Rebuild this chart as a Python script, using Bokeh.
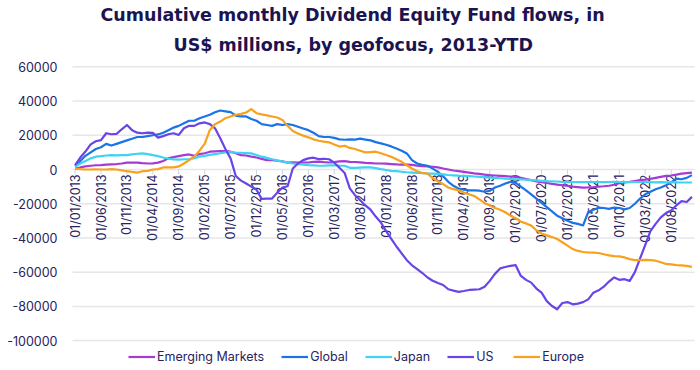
import math
from bokeh.plotting import figure
from bokeh.models import (Range1d, Legend, LegendItem, Title, ColumnDataSource)
from bokeh.core.properties import value
from bokeh.embed import file_html
from bokeh.resources import INLINE

# ---------------- data (US$ millions, cumulative, monthly from Jan 2013) ----------------
months = [f"01/{(i % 12) + 1:02d}/{2013 + i // 12}" for i in range(120)]

emerging_markets = [0.5, 1.2, 1.8, 2.2, 2.5, 2.6, 2.8, 3.0, 3.2, 3.5,
                    4.0, 4.1, 4.0, 3.7, 3.5, 3.6, 4.0, 5.0, 6.5, 7.2,
                    7.8, 8.4, 8.8, 8.0, 9.0, 9.5, 10.4, 10.6, 10.8, 10.7,
                    10.4, 9.5, 8.4, 8.2, 7.5, 7.0, 6.2, 5.5, 5.4, 5.1,
                    4.8, 4.0, 4.2, 4.0, 4.1, 4.1, 4.5, 4.6, 4.3, 4.1,
                    4.3, 4.7, 4.9, 4.5, 4.4, 4.2, 3.9, 3.7, 3.5, 3.5,
                    3.4, 3.2, 3.0, 2.9, 2.9, 2.7, 2.3, 2.0, 1.8, 1.6,
                    1.2, 0.6, 0.0, -0.6, -1.0, -1.4, -1.8, -2.3, -2.6, -3.0,
                    -3.3, -3.5, -3.7, -3.9, -4.1, -4.3, -4.8, -5.6, -6.2, -6.9,
                    -7.4, -7.9, -8.4, -8.8, -9.2, -9.6, -10.0, -10.3, -10.6, -10.5,
                    -10.3, -10.0, -9.8, -9.5, -8.9, -8.0, -7.6, -7.2, -6.7, -6.2,
                    -5.9, -5.5, -4.9, -4.3, -3.7, -3.5, -3.0, -2.4, -2.1, -1.8]

global_ = [2, 5, 8, 10, 12, 13, 15, 14, 15, 16,
           17, 18, 19, 19, 19.5, 20, 20.5, 21.5, 23, 24.5,
           25.5, 27, 28.5, 28.5, 30, 31, 32, 33.5, 34.5, 34,
           33.5, 31.5, 31, 31, 29.5, 28.5, 26.5, 26, 25.5, 26.5,
           26, 26.5, 26, 25, 24, 23, 21.5, 19.5, 19, 19,
           18.5, 17.6, 17.4, 17.6, 17.5, 18, 17.5, 17, 16, 15.3,
           14.5, 13.5, 12.3, 11, 9.4, 5.5, 3.5, 2.8, 2.2, 0.5,
           -1.4, -4, -7.2, -9.5, -11.2, -11.8, -12.2, -12.2, -12.4, -13,
           -12.5, -10.5, -9.5, -8.2, -7.2, -7.8, -10, -12.2, -14.5, -17,
           -19.5, -22, -24.5, -27, -28.5, -30, -31.2, -31.8, -32.7, -24.9,
           -23.5, -22.3, -22.5, -23, -22.3, -22.5, -23.3, -22.5, -20, -17,
           -14.5, -13, -11.5, -10.5, -9.2, -7.5, -5.3, -5.7, -4.9, -3.3]

japan = [1.6, 3.5, 5.0, 6.5, 7.5, 7.8, 8.2, 8.4, 8.3, 8.4,
         8.4, 8.8, 9.2, 9.4, 9.0, 8.4, 7.8, 7.0, 6.3, 5.9,
         5.8, 6.0, 6.1, 6.6, 7.5, 8.0, 8.5, 9.0, 9.5, 10.0,
         10.1, 9.9, 9.8, 9.6, 9.4, 8.5, 7.5, 6.8, 6.0, 5.3,
         4.6, 4.0, 3.5, 3.1, 2.9, 2.6, 2.4, 2.2, 2.2, 2.4,
         2.5, 2.3, 2.2, 1.0, 1.0, 1.1, 1.2, 1.2, 0.8, 0.2,
         -0.3, -0.8, -1.0, -1.3, -1.6, -1.8, -2.0, -2.1, -2.3, -2.4,
         -2.6, -2.9, -3.2, -3.4, -3.6, -3.7, -3.9, -4.1, -4.3, -4.5,
         -4.7, -4.9, -5.1, -5.3, -5.5, -5.7, -5.8, -6.0, -6.2, -6.4,
         -6.6, -6.8, -6.9, -7.0, -7.2, -7.3, -7.3, -7.4, -7.3, -7.4,
         -7.3, -7.3, -7.4, -7.3, -7.2, -7.3, -7.3, -7.4, -7.3, -7.3,
         -7.4, -7.4, -7.5, -7.4, -7.5, -7.5, -7.5, -7.6, -7.6, -7.6]

us = [2.5, 7, 10.5, 14.7, 16.5, 17.2, 21.2, 20.6, 20.8, 23.5,
      26, 23, 21.5, 21.2, 21.6, 21.4, 18.6, 19.5, 20.6, 21.2,
      20.2, 24.1, 25.5, 25.5, 27, 27.5, 26.5, 24.1, 18.2, 12,
      6.5, -3.8, -6.5, -8.2, -10, -11.8, -17.2, -17, -17, -13.5,
      -10.5, -9.8, 0.6, 3.5, 5.5, 6.5, 6.9, 6.1, 6.3, 6.0,
      4, 1, -2, -11, -15, -18, -21, -23.5, -27.5, -31,
      -36, -40.5, -45, -49, -53, -56, -58.2, -60.5, -63.1, -65,
      -66.3, -67.5, -70, -70.8, -71.5, -71, -70.4, -70.2, -70, -68.5,
      -65.1, -61, -57.8, -57, -56.3, -55.9, -62.2, -64.5, -66.1, -69.6,
      -72, -76.9, -79.8, -81.7, -78, -77.5, -78.8, -78.4, -77.5, -75.9,
      -72, -70.6, -68.5, -65.5, -63.1, -64.5, -64.1, -65.1, -60, -52,
      -44, -36, -31.8, -28, -25.5, -23.9, -21, -18.5, -19, -16]

europe = [0.6, 0.2, 0, 0, 0.1, 0, 0, 0.2, 0, -0.5,
          -1, -1.4, -1.8, -1, -0.8, 0, 0.2, 1.2, 1.2, 1.2,
          1.8, 3.5, 5.5, 7.5, 11, 15, 23.1, 26.5, 28, 30,
          31, 32, 32.5, 33.3, 35.3, 32.9, 32.2, 31.6, 31, 30.4,
          29, 25.5, 22.5, 21, 19.8, 18.8, 17.6, 16.8, 16.3, 15.9,
          14.6, 13.4, 13.9, 12.6, 12, 11, 10, 10.2, 10.4, 9.5,
          8.5, 7.5, 6, 4.5, 2.5, 0.6, -1, -2, -2.4, -5,
          -7, -8.5, -10.5, -11.5, -12.2, -13.5, -14.5, -15.5, -17.5, -19.5,
          -21, -22.5, -23.5, -25, -27, -28.5, -30.5, -31.5, -32.8, -35.5,
          -37.5, -38.5, -39.5, -40.6, -42.5, -44.5, -46.5, -47.6, -48.2, -48.5,
          -48.6, -48.8, -49.5, -50.2, -50.6, -50.8, -51.4, -52.4, -53, -53,
          -52.8, -53, -53.3, -54.2, -55.2, -55.4, -55.9, -56, -56.3, -56.9]

series_names = ["Emerging Markets", "Global", "Japan", "US", "Europe"]
series_values = [emerging_markets, global_, japan, us, europe]
series_colors = ["#a53bd1", "#1a74e6", "#3fd2f5", "#6a44e8", "#f8a11c"]

y_ticks = [-100000, -80000, -60000, -40000, -20000, 0, 20000, 40000, 60000]
y_tick_labels = [str(t) for t in y_ticks]
label_step = 5

title_line1 = "Cumulative monthly Dividend Equity Fund flows, in"
title_line2 = "US$ millions, by geofocus, 2013-YTD"

# ---------------- figure ----------------
TEXT = "#27235e"
TITLE_C = "#1c1450"
FONT = "Inter"
TFONT = "DejaVu Sans"

x = list(range(len(months)))
cat_start, cat_end = -0.5, 119.5           # category band covered by the grid
px_per_cat = 5.183                          # horizontal scale of the plot area
view_start = cat_start - 72 / px_per_cat   # room on the left for value labels
view_end = cat_end + 6 / px_per_cat

p = figure(width=700, height=370, output_backend="svg", toolbar_location=None,
           x_range=Range1d(view_start, view_end), y_range=Range1d(-117470, 64290),
           min_border_left=0, min_border_right=0, min_border_bottom=0,
           min_border_top=0, x_axis_type=None, y_axis_type=None,
           title=title_line1)
p.outline_line_color = None
p.background_fill_color = "white"
p.border_fill_color = "white"
p.xgrid.visible = False
p.ygrid.visible = False

p.title.text_font = TFONT
p.title.text_font_size = "17.5px"
p.title.text_font_style = "bold"
p.title.text_color = TITLE_C
p.title.align = "left"
p.title.offset = 100
p.title.standoff = 5
t2 = Title(text=title_line2, text_font=TFONT, text_font_size="17.5px",
           text_font_style="bold", text_color=TITLE_C, align="left", offset=173,
           standoff=10)
p.add_layout(t2, "above")

# value grid lines and value labels
grid_src = ColumnDataSource(dict(x0=[cat_start] * len(y_ticks),
                                 x1=[cat_end] * len(y_ticks),
                                 y=y_ticks, t=y_tick_labels))
p.segment(x0="x0", y0="y", x1="x1", y1="y", source=grid_src,
          line_color="#e6e6e6", line_width=1.5)
p.text(x="x0", y="y", text="t", source=grid_src, x_offset=-15,
       text_align="right", text_baseline="middle",
       text_font=value(FONT), text_font_size="12.5px", text_color=TEXT)

# category ticks and labels hanging from the zero line
lab_idx = list(range(0, len(months), label_step))
lab_src = ColumnDataSource(dict(x=lab_idx, y=[0] * len(lab_idx),
                                t=[months[i] for i in lab_idx]))
p.ray(x="x", y="y", source=lab_src, length=5, length_units="screen",
      angle=-math.pi / 2, line_color="#cfd3e0", line_width=1)
p.text(x="x", y="y", text="t", source=lab_src, angle=math.pi / 2,
       text_align="right", text_baseline="middle", y_offset=5,
       text_font=value(FONT), text_font_size="12.5px", text_color=TEXT)

# lines
items = []
for name, vals, col in zip(series_names, series_values, series_colors):
    src = ColumnDataSource(dict(x=x, y=[v * 1000 for v in vals]))
    r = p.line("x", "y", source=src, line_color=col, line_width=2.2,
               line_join="round")
    items.append(LegendItem(label=name, renderers=[r]))

legend = Legend(items=items, orientation="horizontal", location=(128, 6),
                glyph_width=27, glyph_height=15, label_height=15,
                label_standoff=2, spacing=17,
                padding=0, margin=0, border_line_color=None,
                background_fill_alpha=0, label_text_font=FONT,
                label_text_font_size="12.5px", label_text_color=TEXT)
p.add_layout(legend, "center")

open("out.html", "w").write(file_html(p, INLINE))
